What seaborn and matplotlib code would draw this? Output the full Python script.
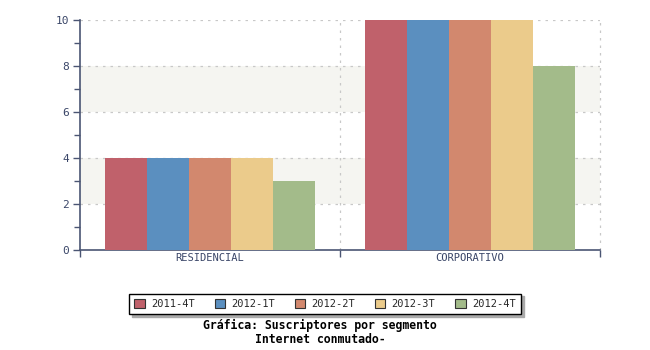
import matplotlib
matplotlib.use("Agg")
import matplotlib.pyplot as plt
import seaborn as sns
import pandas as pd

categories = ["RESIDENCIAL", "CORPORATIVO"]
series = ["2011-4T", "2012-1T", "2012-2T", "2012-3T", "2012-4T"]
values = {
    "2011-4T": [4, 10],
    "2012-1T": [4, 10],
    "2012-2T": [4, 10],
    "2012-3T": [4, 10],
    "2012-4T": [3, 8],
}
colors = ["#c0616b", "#5b8fbf", "#d2886e", "#ebcb8b", "#a3bb8a"]
title = "Gráfica: Suscriptores por segmento\nInternet conmutado-"

rows = []
for s in series:
    for c, v in zip(categories, values[s]):
        rows.append({"cat": c, "serie": s, "val": v})
df = pd.DataFrame(rows)

sns.set_theme(style="white")
plt.rcParams['font.family'] = ['DejaVu Sans Mono', 'DejaVu Sans']

fig = plt.figure(figsize=(6.5, 3.5), dpi=100)
ax = fig.add_axes([80/650, 100/350, 520/650, 230/350])

axcol = "#4a5573"
txtcol = "#3a4668"

# alternating bands
for lo in (2, 6):
    ax.axhspan(lo, lo + 2, color="#f5f5f1", zorder=0, lw=0)

sns.barplot(data=df, x="cat", y="val", hue="serie", order=categories,
            hue_order=series, palette=colors, width=0.81, gap=0,
            saturation=1, ax=ax, zorder=3, linewidth=0, legend=True)

ax.set_xlim(-0.5, 1.5)
ax.set_ylim(0, 10)
ax.set_yticks([0, 2, 4, 6, 8, 10])
ax.set_yticks([1, 3, 5, 7, 9], minor=True)
ax.set_xticks([0, 1])
ax.set_xticklabels(categories)
ax.set_xticks([-0.5, 0.5, 1.5], minor=True)
ax.set_xlabel("")
ax.set_ylabel("")

for y in [2, 4, 6, 8, 10]:
    ax.axhline(y, color="#c8c8c8", ls=(0, (2, 4)), lw=0.9, zorder=1)
for x in [0.5, 1.5]:
    ax.axvline(x, color="#c8c8c8", ls=(0, (2, 4)), lw=0.9, zorder=1, clip_on=False)

for sp in ["top", "right"]:
    ax.spines[sp].set_visible(False)
for sp in ["left", "bottom"]:
    ax.spines[sp].set_color(axcol)
    ax.spines[sp].set_linewidth(1.2)

ax.tick_params(axis="x", which="major", length=0, pad=2, labelsize=7.5, labelcolor=txtcol)
ax.tick_params(axis="x", which="minor", length=5, width=1, color=axcol, direction="out", bottom=True)
ax.tick_params(axis="y", which="major", length=5, width=1, color=axcol, labelsize=8, labelcolor=txtcol, pad=3, left=True)
ax.tick_params(axis="y", which="minor", length=4, width=1, color=axcol, left=True)

h, l = ax.get_legend_handles_labels()
ax.legend_.remove()
leg = fig.legend(h, l, ncol=5, loc="center", bbox_to_anchor=(325/650, 1 - 304/350),
                 frameon=True, fancybox=False, shadow={"color": "#aaaaaa", "alpha": 1},
                 edgecolor="black", fontsize=7.5, handlelength=1.0, handleheight=1.0,
                 columnspacing=1.9, handletextpad=0.6, borderpad=0.5, borderaxespad=0)
leg.get_frame().set_linewidth(1)
for p in leg.get_patches():
    p.set_edgecolor("#333333")
    p.set_linewidth(0.8)

fig.text(320/650, 1 - 332.5/350, title, ha="center", va="center", fontsize=8.3,
         fontweight="bold", color="black", linespacing=1.1)

fig.savefig("out.png", dpi=100)
